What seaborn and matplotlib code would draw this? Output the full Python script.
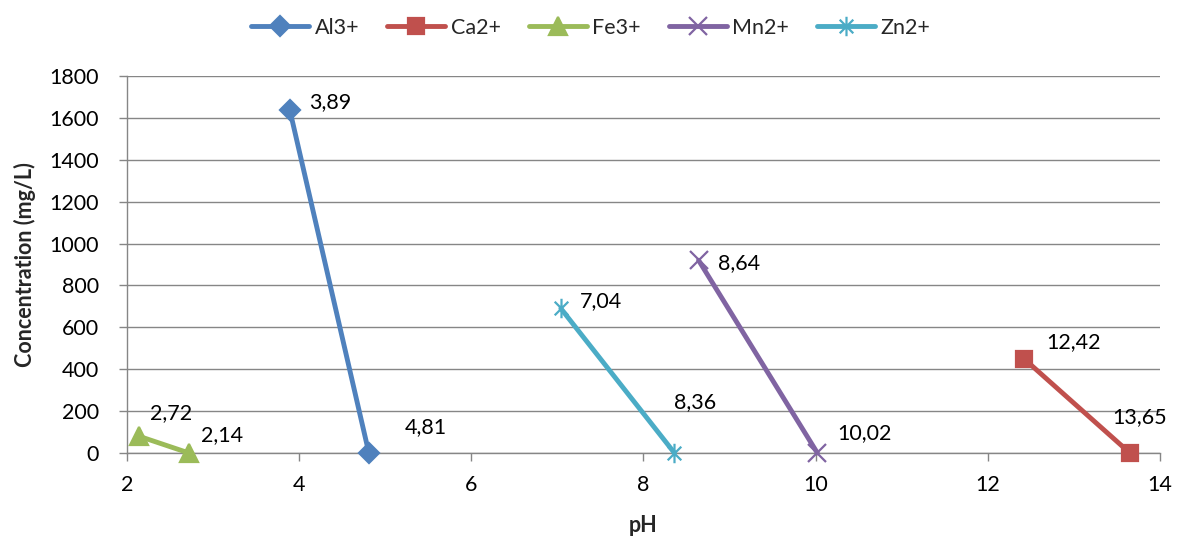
import matplotlib
matplotlib.use("Agg")
import matplotlib.pyplot as plt
import seaborn as sns
import pandas as pd
import numpy as np
from matplotlib.path import Path

ions = ["Al3+", "Ca2+", "Fe3+", "Mn2+", "Zn2+"]
al_ph = [3.89, 4.81]; al_conc = [1640, 0]
ca_ph = [12.42, 13.65]; ca_conc = [450, 0]
fe_ph = [2.14, 2.72]; fe_conc = [80, 0]
mn_ph = [8.64, 10.02]; mn_conc = [920, 0]
zn_ph = [7.04, 8.36]; zn_conc = [690, 0]
labels = {
    "Al3+": ["3,89", "4,81"],
    "Ca2+": ["12,42", "13,65"],
    "Fe3+": ["2,72", "2,14"],
    "Mn2+": ["8,64", "10,02"],
    "Zn2+": ["7,04", "8,36"],
}
colors = {"Al3+": "#4F81BD", "Ca2+": "#C0504D", "Fe3+": "#9BBB59",
          "Mn2+": "#8064A2", "Zn2+": "#4BACC6"}

star = Path([(0, -1), (0, 1), (-0.7, -0.7), (0.7, 0.7), (-0.7, 0.7), (0.7, -0.7)],
            [Path.MOVETO, Path.LINETO, Path.MOVETO, Path.LINETO, Path.MOVETO, Path.LINETO])
markers = {"Al3+": "D", "Ca2+": "s", "Fe3+": "^", "Mn2+": "x", "Zn2+": star}
msizes = {"Al3+": 10, "Ca2+": 12, "Fe3+": 13, "Mn2+": 13, "Zn2+": 14}

rows = []
for ion, xs, ys in zip(ions, [al_ph, ca_ph, fe_ph, mn_ph, zn_ph],
                       [al_conc, ca_conc, fe_conc, mn_conc, zn_conc]):
    for x, y, lab in zip(xs, ys, labels[ion]):
        rows.append({"ion": ion, "pH": x, "conc": y, "lab": lab})
df = pd.DataFrame(rows)

sns.set_theme(style="white")
plt.rcParams["font.family"] = ["Lato", "DejaVu Sans"]
FS = 15.5

fig = plt.figure(figsize=(11.79, 5.42), dpi=100)
ax = fig.add_axes([0.1077, 0.1642, 0.8762, 0.6956])

for ion in ions:
    sub = df[df.ion == ion]
    sns.lineplot(data=sub, x="pH", y="conc", color=colors[ion], marker=markers[ion],
                 markersize=msizes[ion], markeredgecolor=colors[ion],
                 markeredgewidth=1.6, linewidth=3.5, ax=ax, sort=False,
                 estimator=None, label=ion, clip_on=False, zorder=3)

offsets = {
    ("Al3+", 0): (14, 5), ("Al3+", 1): (26, 19),
    ("Fe3+", 0): (8, 17), ("Fe3+", 1): (9, 13),
    ("Zn2+", 0): (14, 5), ("Zn2+", 1): (0, 37),
    ("Mn2+", 0): (14, -2), ("Mn2+", 1): (14, 14),
    ("Ca2+", 0): (16, 12), ("Ca2+", 1): (-13, 26),
}
for ion in ions:
    sub = df[df.ion == ion].reset_index(drop=True)
    for i, r in sub.iterrows():
        ax.annotate(r["lab"], (r["pH"], r["conc"]), xytext=offsets[(ion, i)],
                    textcoords="offset points", fontsize=FS, va="center", ha="left",
                    color="black")

ax.set_xlim(2, 14)
ax.set_ylim(0, 1800)
ax.set_xticks(np.arange(2, 15, 2))
ax.set_yticks(np.arange(0, 1801, 200))
ax.yaxis.grid(True, color="#868686", linewidth=1)
ax.xaxis.grid(False)
ax.set_axisbelow(True)
for s in ["top", "right"]:
    ax.spines[s].set_visible(False)
for s in ["left", "bottom"]:
    ax.spines[s].set_color("#868686")
    ax.spines[s].set_linewidth(1)
ax.tick_params(axis="both", labelsize=FS, labelcolor="black", color="#868686",
               length=6, width=1, direction="out", bottom=True, left=True)
ax.tick_params(axis="x", pad=10)
ax.tick_params(axis="y", pad=14)
ax.set_xlabel("pH", fontsize=FS, fontweight="bold", labelpad=14)
ax.set_ylabel("Concentration (mg/L)", fontsize=FS, fontweight="bold", labelpad=10)

leg = ax.legend(loc="lower center", bbox_to_anchor=(0.449, 1.05), ncol=5,
                frameon=False, fontsize=FS, handlelength=2.7, columnspacing=1.3,
                handletextpad=0.25)

fig.savefig("out.png", dpi=100)
